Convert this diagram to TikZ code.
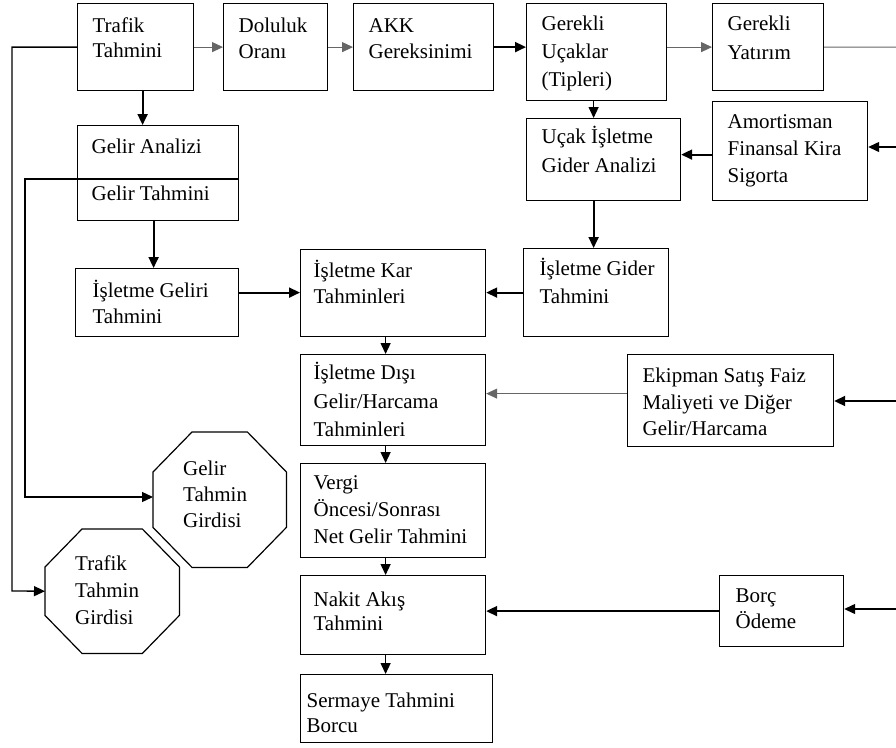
\documentclass[tikz,border=0pt]{standalone}
\usepackage{fontspec}
\setmainfont{Liberation Serif}
\usetikzlibrary{arrows.meta,calc}
% width, height, left inset, first baseline, text, baselineskip
\newcommand{\bxt}[6]{\parbox[c][#2pt][t]{#1pt}{\fontsize{21}{#6}\selectfont\leftskip=#3pt\rightskip=0pt plus 1fil\parindent=0pt\rule{0pt}{#4pt}#5}}
\begin{document}
\begin{tikzpicture}[x=1pt,y=-1pt,
  bx/.style={draw, line width=1.2pt, inner sep=0pt, anchor=north west},
  ghost/.style={inner sep=0pt, anchor=north west},
  oct/.style={draw, line width=1.2pt, line join=miter},
  tip/.style={-{Triangle[length=11pt,width=10pt]}},
  thinln/.style={line width=1pt, draw=black!60},
  medln/.style={line width=1.3pt},
  thickln/.style={line width=2pt}]
\fill[white] (0,0) rectangle (896,747);
\useasboundingbox (0,0) rectangle (896,747);

% top row
\node[bx] (trafik) at (77,3) {\bxt{116}{87}{15}{29}{Trafik\\Tahmini}{25}};
\node[bx] (dol) at (223,3) {\bxt{104}{87}{15}{29}{Doluluk\\Oranı}{26}};
\node[bx] (akk) at (353,3) {\bxt{140}{87}{15}{29}{AKK\\Gereksinimi}{26}};
\node[bx] (ucaklar) at (526,3) {\bxt{140}{97}{15}{27}{Gerekli\\Uçaklar\\(Tipleri)}{28}};
\node[bx] (yatirim) at (712,3) {\bxt{111}{87}{15}{27}{Gerekli\\Yatırım}{29}};

% second row
\node[bx] (gelan) at (77,125) {\bxt{161}{54}{14}{28}{Gelir Analizi}{27}};
\node[bx] (geltah) at (77,179) {\bxt{161}{41}{14}{21}{Gelir Tahmini}{27}};
\node[bx] (ucak) at (526,118) {\bxt{154}{82}{15}{25}{Uçak İşletme\\Gider Analizi}{29}};
\node[bx] (amort) at (712,101) {\bxt{155}{99}{15}{27}{Amortisman\\Finansal Kira\\Sigorta}{27}};

% third row
\node[bx] (geliri) at (75,268) {\bxt{163}{68}{17}{29}{İşletme Geliri\\Tahmini}{26}};
\node[bx] (kar) at (300,249) {\bxt{185}{87}{13}{28}{İşletme Kar\\Tahminleri}{26}};
\node[bx] (gider) at (523,248) {\bxt{145}{88}{16}{27}{İşletme Gider\\Tahmini}{28}};

% central column
\node[bx] (disi) at (300,354) {\bxt{185}{91}{13}{25}{İşletme Dışı\\Gelir/Harcama\\Tahminleri}{28.5}};
\node[bx] (ekip) at (627,354) {\bxt{206}{92}{15}{28}{Ekipman Satış Faiz\\Maliyeti ve Diğer\\Gelir/Harcama}{26.5}};
\node[bx] (vergi) at (300,463) {\bxt{185}{94}{13}{26}{Vergi\\Öncesi/Sonrası\\Net Gelir Tahmini}{27}};
\node[bx] (nakit) at (300,575) {\bxt{185}{79}{13}{31}{Nakit Akış\\Tahmini}{24}};
\node[bx] (borc) at (719,575) {\bxt{124}{71}{16}{27}{Borç\\Ödeme}{26}};
\node[bx] (serm) at (300,674) {\bxt{192}{68}{6}{33}{Sermaye Tahmini\\Borcu}{25}};

% octagons
\node[ghost] (gelgir) at (153,432) {\bxt{133}{135}{30}{43}{Gelir\\Tahmin\\Girdisi}{26}};
\draw[oct] ([xshift=39pt]gelgir.north west) -- ([xshift=-39pt]gelgir.north east)
  -- ([yshift=-40pt]gelgir.north east) -- ([yshift=40pt]gelgir.south east)
  -- ([xshift=-39pt]gelgir.south east) -- ([xshift=39pt]gelgir.south west)
  -- ([yshift=40pt]gelgir.south west) -- ([yshift=-40pt]gelgir.north west) -- cycle;
\node[ghost] (trafgir) at (45,529) {\bxt{134}{124}{30}{41}{Trafik\\Tahmin\\Girdisi}{27}};
\draw[oct] ([xshift=37pt]trafgir.north west) -- ([xshift=-37pt]trafgir.north east)
  -- ([yshift=-38pt]trafgir.north east) -- ([yshift=38pt]trafgir.south east)
  -- ([xshift=-37pt]trafgir.south east) -- ([xshift=37pt]trafgir.south west)
  -- ([yshift=38pt]trafgir.south west) -- ([yshift=-38pt]trafgir.north west) -- cycle;

% free ends on the right edge and left bends
\coordinate (rtop) at (896,47);
\coordinate (ramort) at (896,147);
\coordinate (rekip) at (896,401);
\coordinate (rborc) at (896,609);
\coordinate (lt) at (12,591);
\coordinate (lg) at (25,497);

% connectors
\draw[thinln,tip] (trafik.east) -- (dol.west);
\draw[thinln,tip] (dol.east) -- (akk.west);
\draw[thickln,tip] (akk.east) -- (akk.east -| ucaklar.west);
\draw[thinln,tip] (yatirim.west -| ucaklar.east) -- (yatirim.west);
\draw[thinln] (yatirim.east) -- (rtop);
\draw[medln,tip] (ramort) -- (ramort -| amort.east);
\draw[thickln,tip] ([yshift=-3.5pt]amort.west) -- ([yshift=-3.5pt]amort.west -| ucak.east);
\draw[medln,tip] ([xshift=-3pt]ucaklar.south) -- ([xshift=-3pt]ucaklar.south |- ucak.north);
\draw[thickln,tip] ([xshift=-10pt]ucak.south) -- ([xshift=-10pt]ucak.south |- gider.north);
\draw[thickln,tip] (gider.west) -- (gider.west -| kar.east);
\draw[thickln,tip] ([yshift=10pt]geliri.east) -- ([yshift=10pt]geliri.east -| kar.west);
\draw[thickln,tip] ([xshift=7pt]trafik.south) -- ([xshift=7pt]trafik.south |- gelan.north);
\draw[thickln,tip] ([xshift=-4.5pt]geltah.south) -- ([xshift=-4.5pt]geltah.south |- geliri.north);
\foreach \a/\b in {kar/disi, disi/vergi, vergi/nakit, nakit/serm}
  \draw[medln,tip] ([xshift=-7.5pt]\a.south) -- ([xshift=-7.5pt]\a.south |- \b.north);
\draw[thinln,tip] ([yshift=7pt]ekip.west) -- ([yshift=7pt]ekip.west -| disi.east);
\draw[thickln,tip] (rekip) -- (rekip -| ekip.east);
\draw[medln,tip] (rborc) -- (rborc -| borc.east);
\draw[thickln,tip] (borc.west) -- (borc.west -| nakit.east);
\draw[medln,tip] (trafik.west) -| (lt) -- (trafgir.west);
\draw[medln,tip] (geltah.north east) -| (lg) -- (lg -| gelgir.west);
\end{tikzpicture}
\end{document}
